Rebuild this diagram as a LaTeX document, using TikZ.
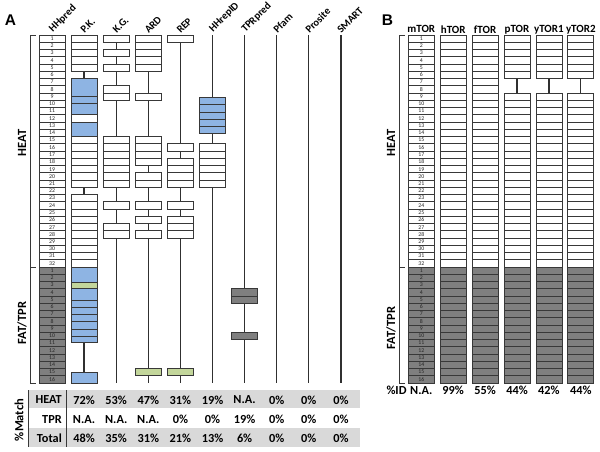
\documentclass[tikz,border=0pt]{standalone}
\usepackage{graphicx}
\usepackage{fontspec}
\setmainfont{Carlito}
\newfontfamily\arialf{Liberation Sans}
\definecolor{pkblue}{HTML}{8EB4E3}
\definecolor{lgreen}{HTML}{C3D69B}
\definecolor{dgrey}{HTML}{7F7F7F}
\definecolor{tshade}{HTML}{D9D9D9}
\definecolor{bordc}{HTML}{383838}
\definecolor{conncol}{HTML}{303030}
\newcommand\rowcell[3]{\path[cellbox,fill=#3] ({#1-13},{35+(#2-1)*7.25}) rectangle ({#1+13},{35+#2*7.25});}
\newcommand\rowcells[4]{\foreach \rr in {#2,...,#3}{\rowcell{#1}{\rr}{#4}}}
\newcommand\ycell[4]{\path[cellbox,fill=#4] ({#1-13},#2) rectangle ({#1+13},#3);}
\newcommand\diagtext[1]{\rotatebox{45}{#1}}
\begin{document}
\begin{tikzpicture}[x=1pt,y=-1pt,
  cellbox/.style={draw=bordc,line width=0.8pt},
  connline/.style={draw=conncol,line width=1.3pt},
  brk/.style={draw=bordc,line width=0.8pt},
  hdrA/.style={anchor=south west,inner sep=0pt,font=\bfseries\fontsize{10.5}{12}\selectfont},
  hdrB/.style={anchor=center,inner sep=0pt,font=\bfseries\fontsize{11}{12}\selectfont},
  numlbl/.style={inner sep=0pt,text=black!85,font=\fontsize{5.8}{6}\selectfont},
  tbl/.style={inner sep=0pt,font=\bfseries\fontsize{12.3}{14}\selectfont},
  sidelbl/.style={rotate=90,inner sep=0pt,font=\bfseries\fontsize{12.5}{14}\selectfont},
  panel/.style={inner sep=0pt,font=\arialf\bfseries\fontsize{15.5}{18}\selectfont}]
\useasboundingbox (0,0) rectangle (600,451);
\fill[white] (0,0) rectangle (600,451);
% column centres
\def\xHH{52}\def\xPK{84.1}\def\xKG{116.2}\def\xAR{148.3}\def\xRE{180.4}
\def\xHR{212.5}\def\xTP{244.6}\def\xPF{276.7}\def\xPS{308.8}\def\xSM{340.9}
\def\xM{421.3}\def\xH{453.2}\def\xF{485.1}\def\xP{517}\def\xYa{548.9}\def\xYb{580.8}
% panel labels
\node[panel] (lA) at (10.5,20.5) {A};
\node[panel] (lB) at (387.5,20) {B};
% headers A
\foreach \xx/\tt/\nn in {\xHH/HHpred/h1,\xPK/P.K./h2,\xKG/K.G./h3,\xAR/ARD/h4,\xRE/REP/h5,\xHR/HHrepID/h6,\xTP/TPRpred/h7,\xPF/Pfam/h8,\xPS/Prosite/h9,\xSM/SMART/h10}
  \node[hdrA] (\nn) at (\xx-4.5,34) {\diagtext{\tt}};
% headers B
\foreach \xx/\tt/\nn in {\xM/mTOR/b1,\xH/hTOR/b2,\xF/fTOR/b3,\xP/pTOR/b4,\xYa/yTOR1/b5,\xYb/yTOR2/b6}
  \node[hdrB] (\nn) at (\xx,29.3) {\tt};
% brackets and side labels
\draw[brk] (35.5,35) -- (30,35) -- (30,383) -- (35.5,383);
\draw[brk] (30,267) -- (35.5,267);
\draw[brk] (405,35) -- (399.5,35) -- (399.5,383) -- (405,383);
\draw[brk] (399.5,267) -- (405,267);
\node[sidelbl] (sA1) at (22,143) {HEAT};
\node[sidelbl] (sA2) at (22,323) {FAT/TPR};
\node[sidelbl] (sB1) at (391,143) {HEAT};
\node[sidelbl] (sB2) at (391,328) {FAT/TPR};
% connector lines
\foreach \xx in {\xPK,\xKG,\xAR,\xRE,\xHR,\xTP,\xPF,\xPS,\xSM,\xP,\xYa,\xYb}
  \draw[connline] (\xx,35) -- (\xx,383);
% HHpred
\rowcells{\xHH}{1}{32}{white}
\rowcells{\xHH}{33}{48}{dgrey}
% P.K.
\rowcells{\xPK}{1}{5}{white}
\ycell{\xPK}{78.5}{96}{pkblue}
\ycell{\xPK}{96}{103.3}{pkblue}
\ycell{\xPK}{103.3}{114.75}{pkblue}
\ycell{\xPK}{114.75}{122}{white}
\ycell{\xPK}{122}{136.5}{pkblue}
\rowcells{\xPK}{15}{21}{white}
\rowcells{\xPK}{23}{32}{white}
\ycell{\xPK}{267}{282.5}{pkblue}
\ycell{\xPK}{282.5}{288.5}{lgreen}
\ycell{\xPK}{288.5}{300}{pkblue}
\ycell{\xPK}{300}{307.3}{pkblue}
\ycell{\xPK}{307.3}{314.5}{pkblue}
\ycell{\xPK}{314.5}{321.7}{pkblue}
\ycell{\xPK}{321.7}{329}{pkblue}
\ycell{\xPK}{329}{336}{pkblue}
\ycell{\xPK}{336}{342.7}{pkblue}
\ycell{\xPK}{372.3}{383}{pkblue}
% K.G.
\foreach \r in {1,3,5,8,9,15,16,17,18,19,20,21,24,27,28} {\rowcell{\xKG}{\r}{white}}
% ARD
\foreach \r in {1,2,3,4,5,9,15,16,17,18,20,21,24,26,28} {\rowcell{\xAR}{\r}{white}}
\rowcell{\xAR}{47}{lgreen}
% REP
\foreach \r in {1,16,18,19,20,21,24,26,27,28} {\rowcell{\xRE}{\r}{white}}
\rowcell{\xRE}{47}{lgreen}
% HHrepID
\ycell{\xHR}{97.3}{104.3}{pkblue}
\ycell{\xHR}{104.3}{112}{pkblue}
\ycell{\xHR}{112}{119.3}{pkblue}
\ycell{\xHR}{119.3}{126.7}{pkblue}
\ycell{\xHR}{126.7}{133.3}{pkblue}
\rowcells{\xHR}{16}{21}{white}
% TPRpred
\rowcell{\xTP}{36}{dgrey}
\rowcell{\xTP}{37}{dgrey}
\rowcell{\xTP}{42}{dgrey}
% panel B
\foreach \xx in {\xM,\xH,\xF} {\rowcells{\xx}{1}{32}{white}\rowcells{\xx}{33}{48}{dgrey}}
\foreach \xx in {\xP,\xYa,\xYb} {\rowcells{\xx}{1}{6}{white}\rowcells{\xx}{9}{32}{white}\rowcells{\xx}{33}{48}{dgrey}}
% numbers
\foreach \k in {1,...,32} {
  \node[numlbl] (ha\k) at (\xHH,{35+(\k-0.5)*7.25}) {\k};
  \node[numlbl] (ma\k) at (\xM,{35+(\k-0.5)*7.25}) {\k};}
\foreach \k in {1,...,16} {
  \node[numlbl] (hf\k) at (\xHH,{267+(\k-0.5)*7.25}) {\k};
  \node[numlbl] (mf\k) at (\xM,{267+(\k-0.5)*7.25}) {\k};}
% table
\fill[tshade] (28.5,390) rectangle (360,408.3);
\fill[tshade] (28.5,427.7) rectangle (360,446.7);
\draw[brk] (28.5,390) -- (28.5,446.7);
\draw[brk] (66.7,390) -- (66.7,446.7);
\node[sidelbl] (pm) at (19,420) {\%Match};
\node[tbl,anchor=east] (tH) at (62,400) {HEAT};
\node[tbl,anchor=east] (tT) at (62,419.3) {TPR};
\node[tbl,anchor=east] (tS) at (62,438.5) {Total};
\foreach \xx/\a/\b/\c [count=\i] in {\xPK/72\%/N.A./48\%,\xKG/53\%/N.A./35\%,\xAR/47\%/N.A./31\%,\xRE/31\%/0\%/21\%,\xHR/19\%/0\%/13\%,\xTP/N.A./19\%/6\%,\xPF/0\%/0\%/0\%,\xPS/0\%/0\%/0\%,\xSM/0\%/0\%/0\%} {
  \node[tbl] (va\i) at (\xx,400) {\a};
  \node[tbl] (vb\i) at (\xx,419.3) {\b};
  \node[tbl] (vc\i) at (\xx,438.5) {\c};}
% %ID row
\node[tbl] (pid) at (396.5,390.7) {\%ID};
\foreach \xx/\a [count=\i] in {\xM/N.A.,\xH/99\%,\xF/55\%,\xP/44\%,\xYa/42\%,\xYb/44\%}
  \node[tbl] (id\i) at (\xx,390.7) {\a};
\end{tikzpicture}
\end{document}
